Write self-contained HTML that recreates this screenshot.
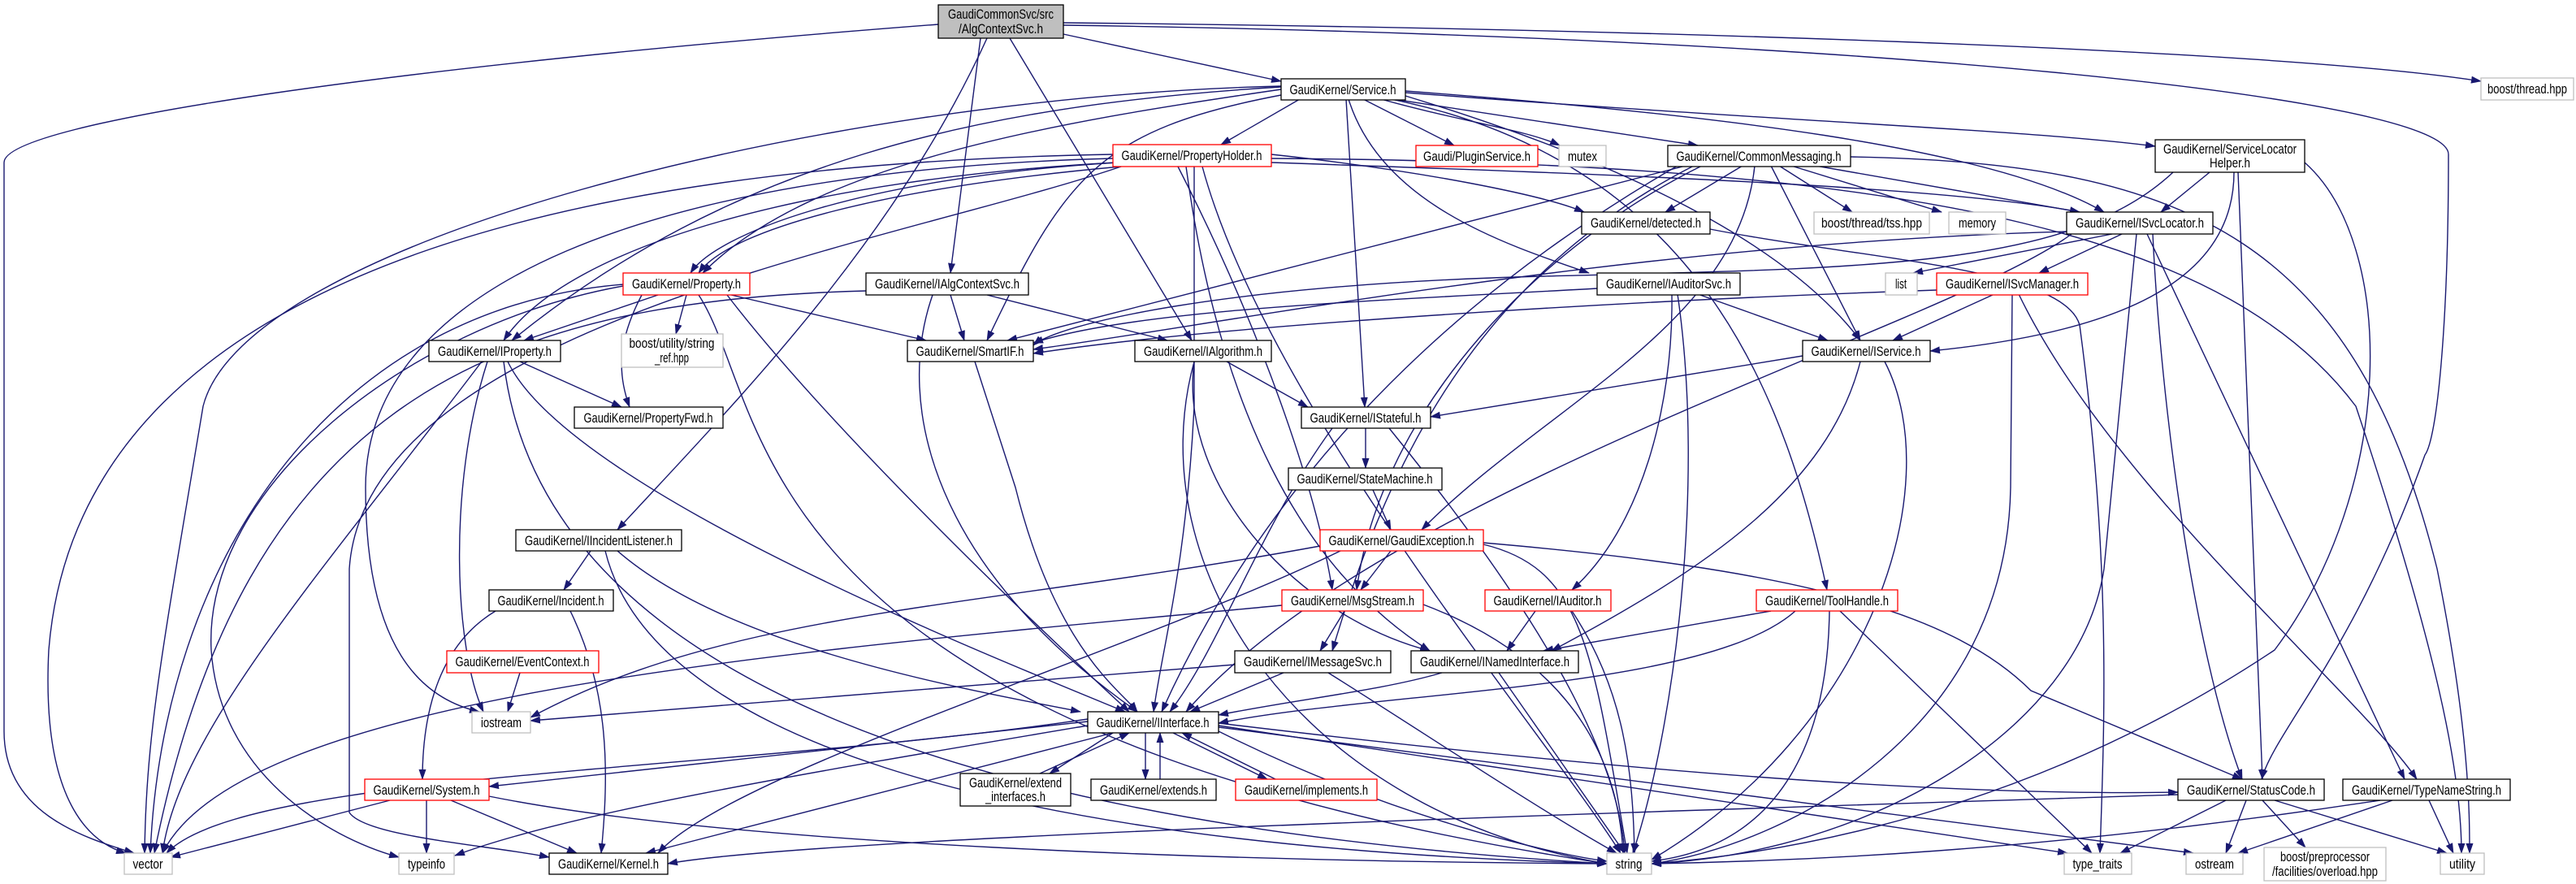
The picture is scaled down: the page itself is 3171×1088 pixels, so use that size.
<!DOCTYPE html>
<html><head><meta charset="utf-8"><style>
html,body{margin:0;padding:0;background:#fff;}
svg{display:block;}
text{font-family:"Liberation Sans",sans-serif;font-size:17px;fill:#000;}
.e{fill:none;stroke:#191970;stroke-width:1.4;marker-end:url(#a);}
.n{fill:#fff;stroke:#000;stroke-width:1.3;}
.r{fill:#fff;stroke:#ff0000;stroke-width:1.3;}
.x{fill:#fff;stroke:#bfbfbf;stroke-width:1.3;}
.g{fill:#bfbfbf;stroke:#000;stroke-width:1.3;}
</style></head><body>
<svg width="3171" height="1088" viewBox="0 0 3171 1088" xmlns="http://www.w3.org/2000/svg">
<defs><marker id="a" markerUnits="userSpaceOnUse" markerWidth="13" markerHeight="9" refX="12" refY="4.5" orient="auto"><path d="M0,0 L13,4.5 L0,9 z" fill="#191970"/></marker></defs>
<g>
<path class="e" d="M1309 42 L1577 100"/>
<path class="e" d="M1309 28 C2000 35, 2800 60, 3054 100"/>
<path class="e" d="M1309 31 C2300 45, 3014 120, 3014 190 C3014 400, 3000 540, 2985 560 C2900 800, 2800 900, 2784 959"/>
<path class="e" d="M1155 30 C500 80, 5 150, 5 200 L5 900 C5 1000, 100 1030, 165 1050"/>
<path class="e" d="M1215 47 C1100 300, 900 500, 760 652"/>
<path class="e" d="M1207 47 L1170 336"/>
<path class="e" d="M1243 47 L1467 419"/>
<path class="e" d="M1600 122 L1503 178"/>
<path class="e" d="M1678 122 L1790 179"/>
<path class="e" d="M1700 122 C1800 150, 1880 160, 1920 179"/>
<path class="e" d="M1715 122 L2090 179"/>
<path class="e" d="M1730 114 C2200 150, 2500 160, 2653 180"/>
<path class="e" d="M1730 112 C2100 140, 2450 180, 2590 261"/>
<path class="e" d="M1730 118 C2000 200, 2200 300, 2290 419"/>
<path class="e" d="M1657 122 L1680 501"/>
<path class="e" d="M1660 122 C1700 250, 1850 300, 1956 336"/>
<path class="e" d="M1577 110 C1300 150, 1000 200, 865 336"/>
<path class="e" d="M1577 107 C1200 130, 900 200, 630 419"/>
<path class="e" d="M1577 117 C1350 160, 1310 220, 1215 419"/>
<path class="e" d="M1577 106 C1000 120, 300 300, 250 500 C200 800, 180 900, 178 1050"/>
<path class="e" d="M1712 122 C2100 200, 2200 500, 2249 726"/>
<path class="e" d="M1380 205 C1100 230, 900 280, 860 336"/>
<path class="e" d="M1375 200 C1050 220, 880 290, 850 336"/>
<path class="e" d="M1375 200 C1000 220, 700 300, 620 419"/>
<path class="e" d="M1370 190 C800 200, 100 300, 60 800 C50 1000, 120 1040, 155 1050"/>
<path class="e" d="M1370 195 C800 210, 450 350, 450 600 C450 800, 520 860, 590 876"/>
<path class="e" d="M1380 205 C1100 300, 450 400, 430 700 L430 1000 C450 1030, 600 1040, 676 1055"/>
<path class="e" d="M1480 205 C1560 500, 1900 900, 1995 1050"/>
<path class="e" d="M1565 190 C1750 210, 1900 240, 1950 261"/>
<path class="e" d="M1565 200 C2000 215, 2400 230, 2560 261"/>
<path class="e" d="M1565 195 C2400 200, 2750 300, 2900 500 C3000 800, 3030 950, 3030 1050"/>
<path class="e" d="M1460 205 C1500 500, 1600 700, 1760 801"/>
<path class="e" d="M1450 205 C1550 400, 1620 600, 1640 726"/>
<path class="e" d="M1470 205 L1470 500 C1460 700, 1430 800, 1420 876"/>
<path class="e" d="M2145 204 L2050 261"/>
<path class="e" d="M2190 204 L2280 261"/>
<path class="e" d="M2205 204 L2390 261"/>
<path class="e" d="M2235 204 L2560 261"/>
<path class="e" d="M2180 204 L2290 419"/>
<path class="e" d="M2075 204 C1700 300, 1400 380, 1240 419"/>
<path class="e" d="M2160 204 C2140 400, 1900 500, 1750 652"/>
<path class="e" d="M2095 204 C1900 300, 1700 500, 1670 726"/>
<path class="e" d="M2085 204 C1800 350, 1700 600, 1640 801"/>
<path class="e" d="M2065 204 C1900 300, 1600 500, 1430 876"/>
<path class="e" d="M2278 193 C2700 200, 2900 300, 3000 700 C3040 900, 3040 1000, 3040 1050"/>
<path class="e" d="M2720 212 L2660 261"/>
<path class="e" d="M2750 212 C2750 350, 2600 410, 2376 432"/>
<path class="e" d="M2755 212 L2785 959"/>
<path class="e" d="M2837 200 C2950 300, 2950 600, 2800 800 C2500 1000, 2200 1050, 2033 1063"/>
<path class="e" d="M2675 212 C2550 330, 2300 330, 1900 340 C1500 350, 1300 400, 1272 425"/>
<path class="e" d="M2600 288 L2355 336"/>
<path class="e" d="M2612 288 L2510 336"/>
<path class="e" d="M2544 285 C2000 300, 1500 400, 1272 430"/>
<path class="e" d="M2550 288 C2400 400, 1700 600, 1460 876"/>
<path class="e" d="M2630 288 L2590 700 C2560 900, 2300 1050, 2033 1063"/>
<path class="e" d="M2643 288 L2960 959"/>
<path class="e" d="M2650 288 C2660 500, 2700 800, 2760 959"/>
<path class="e" d="M2105 282 C2300 320, 2540 330, 2560 400 C2600 700, 2590 900, 2585 1050"/>
<path class="e" d="M2455 362 L2330 419"/>
<path class="e" d="M2384 357 C2000 370, 1500 400, 1272 435"/>
<path class="e" d="M2477 362 L2475 600 C2470 900, 2200 1040, 2033 1063"/>
<path class="e" d="M2485 362 C2600 600, 2900 850, 2975 959"/>
<path class="e" d="M2090 362 L2250 419"/>
<path class="e" d="M2058 362 C2060 500, 2020 650, 1935 726"/>
<path class="e" d="M2065 362 C2100 600, 2060 900, 2010 1050"/>
<path class="e" d="M1966 355 C1700 370, 1400 380, 1272 422"/>
<path class="e" d="M2219 438 L1761 513"/>
<path class="e" d="M2290 445 C2250 600, 2100 700, 1910 801"/>
<path class="e" d="M2320 445 C2400 600, 2300 900, 2033 1058"/>
<path class="e" d="M1681 527 L1681 576"/>
<path class="e" d="M1640 527 C1550 650, 1500 800, 1440 876"/>
<path class="e" d="M1710 527 C1850 700, 1990 900, 2000 1050"/>
<path class="e" d="M1690 603 L1712 652"/>
<path class="e" d="M1712 678 L1675 726"/>
<path class="e" d="M1625 672 C1200 750, 900 750, 653 883"/>
<path class="e" d="M1650 678 C1400 800, 900 950, 810 1050"/>
<path class="e" d="M1826 670 C1950 700, 1960 800, 2003 1050"/>
<path class="e" d="M1826 668 C2200 700, 2400 750, 2500 850 L2760 959"/>
<path class="e" d="M1655 752 L1625 801"/>
<path class="e" d="M1752 744 C1900 800, 1990 900, 1998 1050"/>
<path class="e" d="M1578 745 C1000 800, 300 850, 200 1050"/>
<path class="e" d="M1890 752 L1855 801"/>
<path class="e" d="M1935 752 C2000 850, 2010 950, 2012 1050"/>
<path class="e" d="M2180 752 L1900 801"/>
<path class="e" d="M2210 752 C2100 850, 1700 850, 1500 890"/>
<path class="e" d="M2265 752 L2575 1050"/>
<path class="e" d="M2252 752 C2250 900, 2200 1040, 2033 1060"/>
<path class="e" d="M1580 828 L1465 876"/>
<path class="e" d="M1520 818 L653 887"/>
<path class="e" d="M1635 828 C1750 900, 1900 1000, 1990 1050"/>
<path class="e" d="M1775 828 C1700 850, 1600 860, 1500 880"/>
<path class="e" d="M1845 828 L2000 1050"/>
<path class="e" d="M727 678 L694 726"/>
<path class="e" d="M760 678 C900 800, 1200 850, 1330 876"/>
<path class="e" d="M745 678 C800 900, 1200 1040, 1978 1063"/>
<path class="e" d="M702 752 C750 850, 750 950, 740 1050"/>
<path class="e" d="M610 752 C530 800, 520 900, 520 959"/>
<path class="e" d="M640 828 L625 876"/>
<path class="e" d="M1339 888 L602 968"/>
<path class="e" d="M1370 902 L1292 952"/>
<path class="e" d="M1410 902 L1410 959"/>
<path class="e" d="M1444 902 L1560 959"/>
<path class="e" d="M1500 890 C2000 950, 2400 980, 2681 975"/>
<path class="e" d="M1339 893 C1000 950, 700 1000, 560 1053"/>
<path class="e" d="M1370 902 L795 1050"/>
<path class="e" d="M1339 885 C900 950, 300 950, 205 1050"/>
<path class="e" d="M1500 900 C1700 1000, 1900 1050, 1978 1060"/>
<path class="e" d="M1500 895 L2700 1050"/>
<path class="e" d="M1500 893 L2545 1050"/>
<path class="e" d="M1280 952 L1390 902"/>
<path class="e" d="M1428 959 L1428 902"/>
<path class="e" d="M1570 959 L1455 902"/>
<path class="e" d="M2681 978 C2000 1000, 1000 1030, 822 1063"/>
<path class="e" d="M2740 985 L2610 1050"/>
<path class="e" d="M2765 985 L2740 1050"/>
<path class="e" d="M2785 985 L2838 1043"/>
<path class="e" d="M2800 985 L3012 1050"/>
<path class="e" d="M2930 985 C2500 1050, 2200 1060, 2033 1063"/>
<path class="e" d="M2945 985 L2755 1050"/>
<path class="e" d="M2990 985 L3020 1050"/>
<path class="e" d="M480 985 L210 1055"/>
<path class="e" d="M525 985 L525 1050"/>
<path class="e" d="M555 985 L710 1050"/>
<path class="e" d="M602 980 C900 1040, 1500 1060, 1978 1063"/>
<path class="e" d="M810 363 L645 419"/>
<path class="e" d="M790 363 C760 420, 760 460, 775 501"/>
<path class="e" d="M845 363 L832 411"/>
<path class="e" d="M900 363 L1140 419"/>
<path class="e" d="M860 363 C950 500, 900 900, 1978 1063"/>
<path class="e" d="M767 350 C400 380, 200 700, 185 1050"/>
<path class="e" d="M767 352 C500 400, 250 600, 260 800 C270 950, 400 1030, 491 1055"/>
<path class="e" d="M895 363 C1000 500, 1200 700, 1390 876"/>
<path class="e" d="M640 445 L765 501"/>
<path class="e" d="M625 445 C700 600, 1200 800, 1385 876"/>
<path class="e" d="M620 445 C650 700, 900 1000, 1978 1063"/>
<path class="e" d="M593 445 C400 700, 220 900, 200 1050"/>
<path class="e" d="M600 445 C550 600, 560 800, 595 876"/>
<path class="e" d="M1170 363 L1187 419"/>
<path class="e" d="M1215 363 L1437 419"/>
<path class="e" d="M1148 363 C1100 500, 1150 700, 1400 876"/>
<path class="e" d="M1066 358 C600 370, 300 500, 190 1050"/>
<path class="e" d="M1200 445 L1250 600 C1300 800, 1380 850, 1400 876"/>
<path class="e" d="M1510 445 L1610 501"/>
<path class="e" d="M1470 445 C1450 600, 1600 760, 1760 801"/>
<path class="e" d="M1470 445 C1400 700, 1600 1000, 1978 1063"/>
</g>
<g text-anchor="middle">
<rect class="g" x="1155" y="6" width="154" height="41"/><text x="1232" y="23" textLength="130" lengthAdjust="spacingAndGlyphs">GaudiCommonSvc/src</text><text x="1232" y="41" textLength="104" lengthAdjust="spacingAndGlyphs">/AlgContextSvc.h</text>
<rect class="n" x="1577" y="97" width="153" height="26"/><text x="1653" y="116" textLength="131" lengthAdjust="spacingAndGlyphs">GaudiKernel/Service.h</text>
<rect class="r" x="1370" y="178" width="195" height="27"/><text x="1467" y="197" textLength="173" lengthAdjust="spacingAndGlyphs">GaudiKernel/PropertyHolder.h</text>
<rect class="r" x="1743" y="179" width="150" height="26"/><text x="1818" y="198" textLength="132" lengthAdjust="spacingAndGlyphs">Gaudi/PluginService.h</text>
<rect class="x" x="1919" y="179" width="58" height="26"/><text x="1948" y="198" textLength="36" lengthAdjust="spacingAndGlyphs">mutex</text>
<rect class="n" x="2053" y="179" width="225" height="26"/><text x="2165" y="198" textLength="203" lengthAdjust="spacingAndGlyphs">GaudiKernel/CommonMessaging.h</text>
<rect class="n" x="2653" y="172" width="184" height="40"/><text x="2745" y="189" textLength="164" lengthAdjust="spacingAndGlyphs">GaudiKernel/ServiceLocator</text><text x="2745" y="206" textLength="50" lengthAdjust="spacingAndGlyphs">Helper.h</text>
<rect class="x" x="3054" y="96" width="114" height="27"/><text x="3111" y="115" textLength="98" lengthAdjust="spacingAndGlyphs">boost/thread.hpp</text>
<rect class="n" x="1947" y="261" width="158" height="27"/><text x="2026" y="280" textLength="136" lengthAdjust="spacingAndGlyphs">GaudiKernel/detected.h</text>
<rect class="x" x="2233" y="261" width="142" height="27"/><text x="2304" y="280" textLength="124" lengthAdjust="spacingAndGlyphs">boost/thread/tss.hpp</text>
<rect class="x" x="2399" y="261" width="70" height="27"/><text x="2434" y="280" textLength="46" lengthAdjust="spacingAndGlyphs">memory</text>
<rect class="n" x="2544" y="261" width="180" height="27"/><text x="2634" y="280" textLength="158" lengthAdjust="spacingAndGlyphs">GaudiKernel/ISvcLocator.h</text>
<rect class="r" x="767" y="336" width="156" height="27"/><text x="845" y="355" textLength="134" lengthAdjust="spacingAndGlyphs">GaudiKernel/Property.h</text>
<rect class="n" x="1066" y="336" width="200" height="27"/><text x="1166" y="355" textLength="178" lengthAdjust="spacingAndGlyphs">GaudiKernel/IAlgContextSvc.h</text>
<rect class="n" x="1966" y="336" width="176" height="27"/><text x="2054" y="355" textLength="154" lengthAdjust="spacingAndGlyphs">GaudiKernel/IAuditorSvc.h</text>
<rect class="x" x="2321" y="336" width="39" height="27"/><text x="2340" y="355" textLength="14" lengthAdjust="spacingAndGlyphs">list</text>
<rect class="r" x="2384" y="336" width="186" height="27"/><text x="2477" y="355" textLength="164" lengthAdjust="spacingAndGlyphs">GaudiKernel/ISvcManager.h</text>
<rect class="n" x="528" y="419" width="162" height="26"/><text x="609" y="438" textLength="140" lengthAdjust="spacingAndGlyphs">GaudiKernel/IProperty.h</text>
<rect class="x" x="765" y="411" width="125" height="41"/><text x="827" y="428" textLength="105" lengthAdjust="spacingAndGlyphs">boost/utility/string</text><text x="827" y="446" textLength="42" lengthAdjust="spacingAndGlyphs">_ref.hpp</text>
<rect class="n" x="1117" y="419" width="155" height="26"/><text x="1194" y="438" textLength="133" lengthAdjust="spacingAndGlyphs">GaudiKernel/SmartIF.h</text>
<rect class="n" x="1397" y="419" width="168" height="26"/><text x="1481" y="438" textLength="146" lengthAdjust="spacingAndGlyphs">GaudiKernel/IAlgorithm.h</text>
<rect class="n" x="2219" y="419" width="157" height="26"/><text x="2297" y="438" textLength="135" lengthAdjust="spacingAndGlyphs">GaudiKernel/IService.h</text>
<rect class="n" x="707" y="501" width="183" height="26"/><text x="798" y="520" textLength="159" lengthAdjust="spacingAndGlyphs">GaudiKernel/PropertyFwd.h</text>
<rect class="n" x="1602" y="501" width="159" height="26"/><text x="1681" y="520" textLength="137" lengthAdjust="spacingAndGlyphs">GaudiKernel/IStateful.h</text>
<rect class="n" x="1586" y="576" width="189" height="27"/><text x="1680" y="595" textLength="167" lengthAdjust="spacingAndGlyphs">GaudiKernel/StateMachine.h</text>
<rect class="n" x="635" y="652" width="204" height="26"/><text x="737" y="671" textLength="182" lengthAdjust="spacingAndGlyphs">GaudiKernel/IIncidentListener.h</text>
<rect class="r" x="1625" y="652" width="201" height="26"/><text x="1725" y="671" textLength="179" lengthAdjust="spacingAndGlyphs">GaudiKernel/GaudiException.h</text>
<rect class="n" x="602" y="726" width="153" height="26"/><text x="678" y="745" textLength="131" lengthAdjust="spacingAndGlyphs">GaudiKernel/Incident.h</text>
<rect class="r" x="1578" y="726" width="174" height="26"/><text x="1665" y="745" textLength="152" lengthAdjust="spacingAndGlyphs">GaudiKernel/MsgStream.h</text>
<rect class="r" x="1828" y="726" width="155" height="26"/><text x="1905" y="745" textLength="133" lengthAdjust="spacingAndGlyphs">GaudiKernel/IAuditor.h</text>
<rect class="r" x="2162" y="726" width="174" height="26"/><text x="2249" y="745" textLength="152" lengthAdjust="spacingAndGlyphs">GaudiKernel/ToolHandle.h</text>
<rect class="r" x="550" y="801" width="187" height="27"/><text x="643" y="820" textLength="165" lengthAdjust="spacingAndGlyphs">GaudiKernel/EventContext.h</text>
<rect class="n" x="1520" y="801" width="192" height="27"/><text x="1616" y="820" textLength="170" lengthAdjust="spacingAndGlyphs">GaudiKernel/IMessageSvc.h</text>
<rect class="n" x="1737" y="801" width="206" height="27"/><text x="1840" y="820" textLength="184" lengthAdjust="spacingAndGlyphs">GaudiKernel/INamedInterface.h</text>
<rect class="x" x="581" y="876" width="72" height="26"/><text x="617" y="895" textLength="50" lengthAdjust="spacingAndGlyphs">iostream</text>
<rect class="n" x="1339" y="876" width="161" height="26"/><text x="1419" y="895" textLength="139" lengthAdjust="spacingAndGlyphs">GaudiKernel/IInterface.h</text>
<rect class="r" x="449" y="959" width="153" height="26"/><text x="525" y="978" textLength="131" lengthAdjust="spacingAndGlyphs">GaudiKernel/System.h</text>
<rect class="n" x="1182" y="952" width="136" height="40"/><text x="1250" y="969" textLength="114" lengthAdjust="spacingAndGlyphs">GaudiKernel/extend</text><text x="1250" y="986" textLength="74" lengthAdjust="spacingAndGlyphs">_interfaces.h</text>
<rect class="n" x="1343" y="959" width="154" height="26"/><text x="1420" y="978" textLength="132" lengthAdjust="spacingAndGlyphs">GaudiKernel/extends.h</text>
<rect class="r" x="1521" y="959" width="174" height="26"/><text x="1608" y="978" textLength="152" lengthAdjust="spacingAndGlyphs">GaudiKernel/implements.h</text>
<rect class="n" x="2681" y="959" width="180" height="26"/><text x="2771" y="978" textLength="158" lengthAdjust="spacingAndGlyphs">GaudiKernel/StatusCode.h</text>
<rect class="n" x="2884" y="959" width="206" height="26"/><text x="2987" y="978" textLength="184" lengthAdjust="spacingAndGlyphs">GaudiKernel/TypeNameString.h</text>
<rect class="x" x="153" y="1050" width="59" height="26"/><text x="182" y="1069" textLength="37" lengthAdjust="spacingAndGlyphs">vector</text>
<rect class="x" x="491" y="1050" width="68" height="26"/><text x="525" y="1069" textLength="46" lengthAdjust="spacingAndGlyphs">typeinfo</text>
<rect class="n" x="676" y="1050" width="146" height="26"/><text x="749" y="1069" textLength="124" lengthAdjust="spacingAndGlyphs">GaudiKernel/Kernel.h</text>
<rect class="x" x="1978" y="1050" width="55" height="26"/><text x="2005" y="1069" textLength="33" lengthAdjust="spacingAndGlyphs">string</text>
<rect class="x" x="2541" y="1050" width="83" height="26"/><text x="2582" y="1069" textLength="61" lengthAdjust="spacingAndGlyphs">type_traits</text>
<rect class="x" x="2691" y="1050" width="70" height="26"/><text x="2726" y="1069" textLength="48" lengthAdjust="spacingAndGlyphs">ostream</text>
<rect class="x" x="2787" y="1043" width="150" height="41"/><text x="2862" y="1060" textLength="110" lengthAdjust="spacingAndGlyphs">boost/preprocessor</text><text x="2862" y="1078" textLength="130" lengthAdjust="spacingAndGlyphs">/facilities/overload.hpp</text>
<rect class="x" x="3004" y="1050" width="54" height="26"/><text x="3031" y="1069" textLength="32" lengthAdjust="spacingAndGlyphs">utility</text>
</g>
</svg>
</body></html>
